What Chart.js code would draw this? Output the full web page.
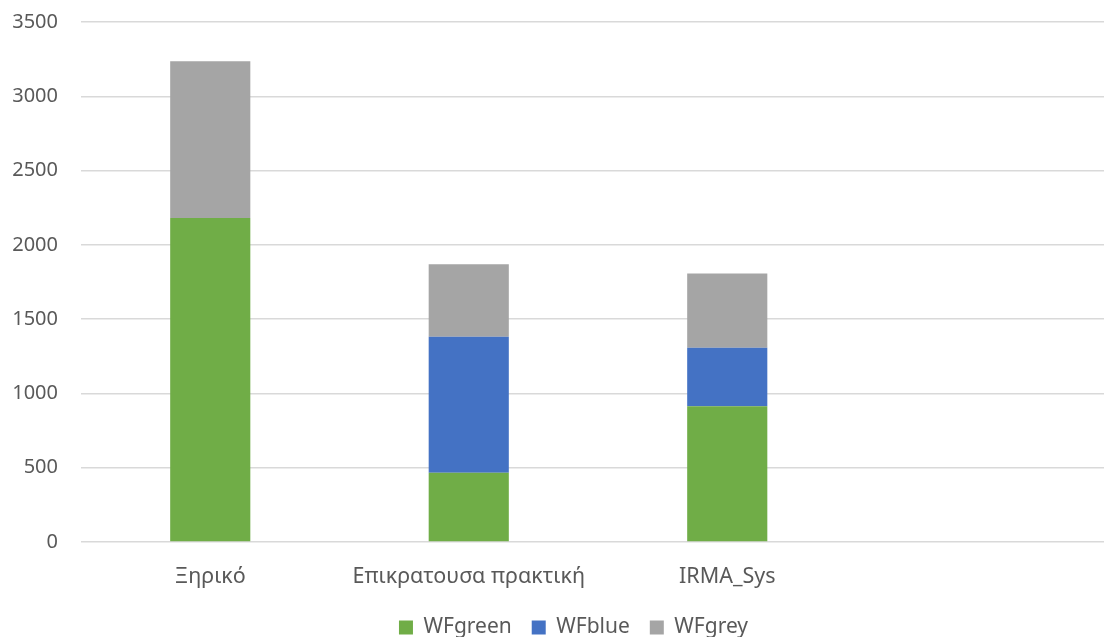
<!DOCTYPE html>
<html>
<head>
<meta charset="utf-8">
<script src="https://cdn.jsdelivr.net/npm/chart.js@4"></script>
<style>
  html, body { margin: 0; padding: 0; background: #ffffff; overflow: hidden; width: 1104px; height: 637px; }
  #wrap { width: 1120px; height: 648px; position: relative; }
</style>
</head>
<body>
<div id="wrap"><canvas id="chart"></canvas></div>
<script>
// Water footprint per scenario, stacked by component
const categories = ['Ξηρικό', 'Επικρατουσα πρακτική', 'IRMA_Sys', ''];
const wfGreen = [2180, 466, 914, null];
const wfBlue  = [0, 915, 393, null];
const wfGrey  = [1055, 488, 500, null];
const yTicks = { min: 0, max: 3500, step: 500 };

const textColor = '#595959';
const fontFamily = '"Noto Sans", "DejaVu Sans", sans-serif';

// nudges the legend row to sit centred under the plot
const legendShift = {
  id: 'legendShift',
  afterLayout(chart) {
    if (chart.legend) {
      chart.legend.left += 16;
      chart.legend.right += 16;
    }
  }
};

new Chart(document.getElementById('chart'), {
  type: 'bar',
  data: {
    labels: categories,
    datasets: [
      { label: 'WFgreen', data: wfGreen, backgroundColor: '#70ad47' },
      { label: 'WFblue',  data: wfBlue,  backgroundColor: '#4472c4' },
      { label: 'WFgrey',  data: wfGrey,  backgroundColor: '#a5a5a5' }
    ]
  },
  plugins: [legendShift],
  options: {
    responsive: true,
    maintainAspectRatio: false,
    animation: false,
    layout: { padding: { top: 22, right: 5, left: 0, bottom: 0 } },
    datasets: { bar: { barPercentage: 1, categoryPercentage: 0.31, borderWidth: 0 } },
    plugins: {
      tooltip: { enabled: false },
      legend: {
        position: 'bottom',
        labels: {
          color: textColor,
          font: { family: fontFamily, size: 21 },
          boxWidth: 14,
          boxHeight: 14,
          padding: 20
        }
      }
    },
    scales: {
      x: {
        stacked: true,
        grid: { display: false, drawTicks: false },
        border: { display: false },
        ticks: { color: textColor, font: { family: fontFamily, size: 21.5 }, padding: 22, maxRotation: 0 },
        afterFit(scale) { scale.height = 55; }
      },
      y: {
        stacked: true,
        min: yTicks.min,
        max: yTicks.max,
        grid: { color: '#d9d9d9', lineWidth: 1.5, drawTicks: false },
        border: { display: false },
        ticks: {
          stepSize: yTicks.step,
          color: textColor,
          font: { family: fontFamily, size: 20 },
          padding: 23,
          callback: (v) => String(v)
        },
        afterFit(scale) {
          scale.width = 81;
          scale.paddingTop = 0;
          scale.paddingBottom = 0;
        }
      }
    }
  }
});
</script>
</body>
</html>
